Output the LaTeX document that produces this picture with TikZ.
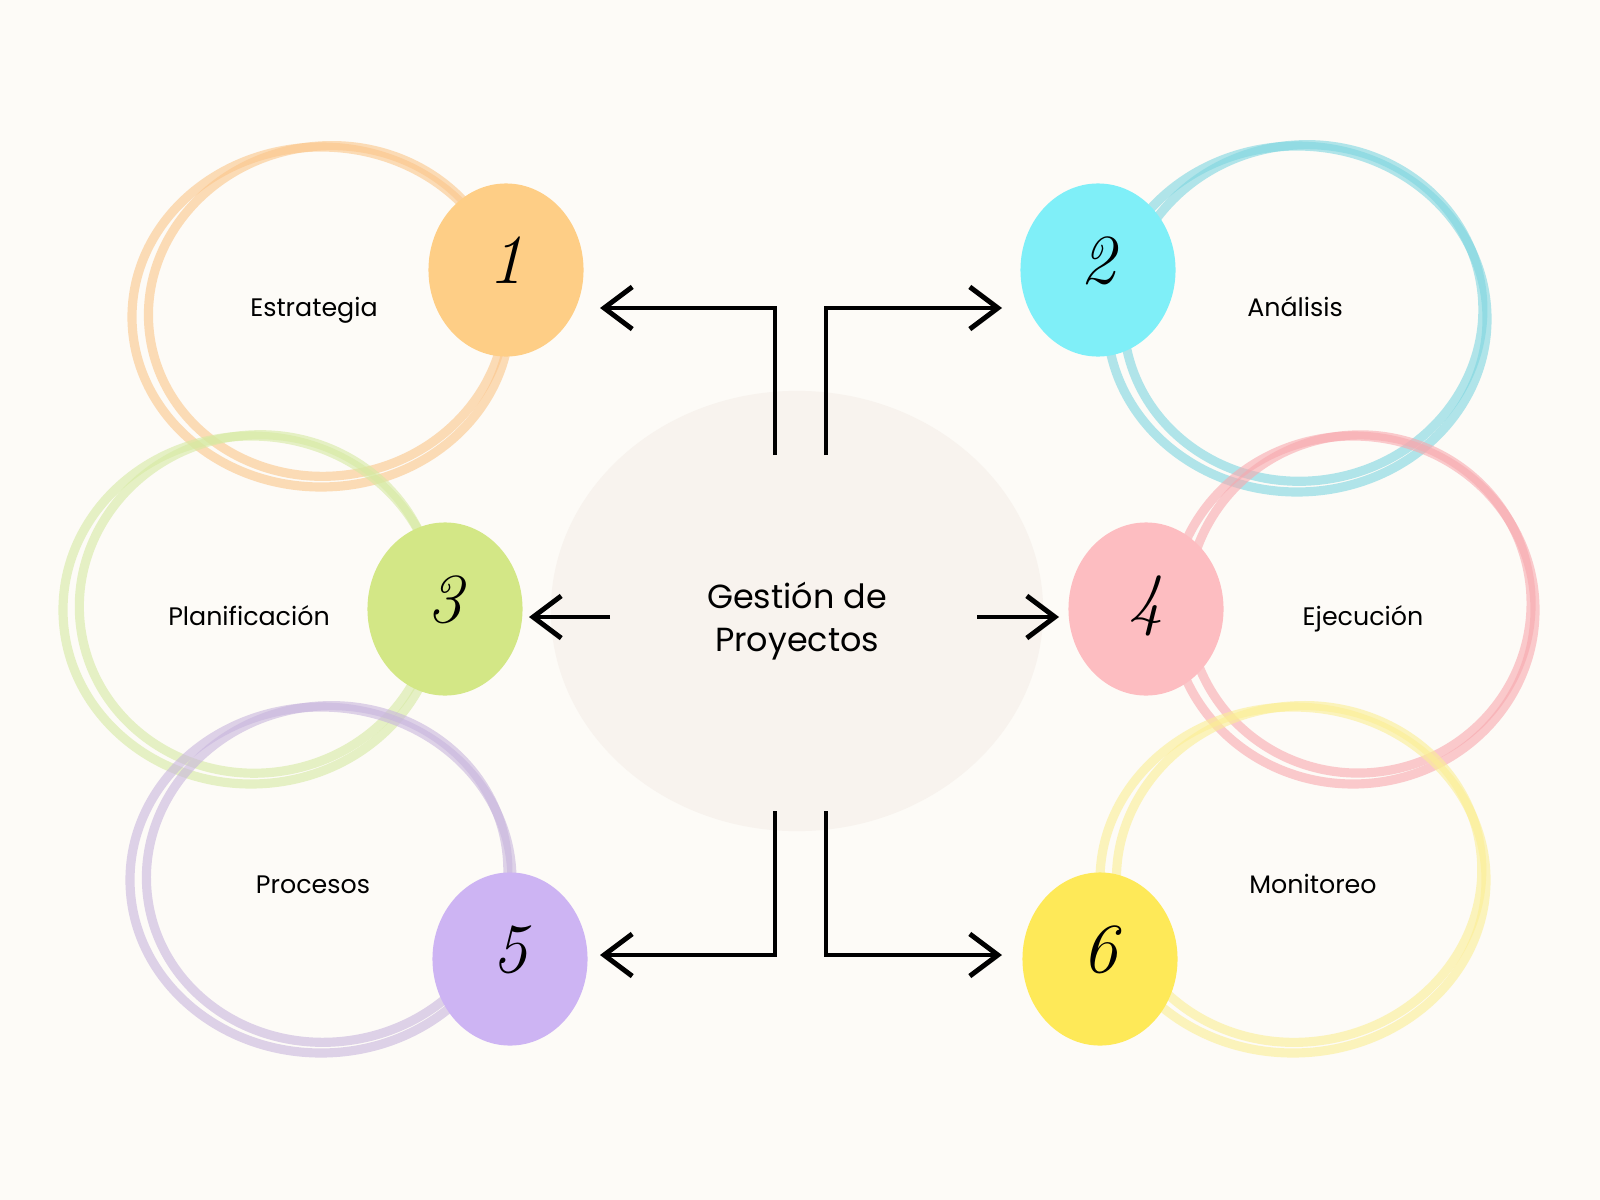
\documentclass[tikz,border=0pt]{standalone}
\usepackage{fontspec}
\setsansfont{Poppins}
\usepackage{xcolor}
\usetikzlibrary{arrows.meta,shapes.geometric}

\definecolor{paper}{HTML}{FDFBF7}
\definecolor{hubfill}{HTML}{F8F3EE}
\definecolor{orblob}{HTML}{FECE86}
\definecolor{orring}{HTML}{FBC68A}
\definecolor{cyblob}{HTML}{7FEFF8}
\definecolor{cyring}{HTML}{7ED6E0}
\definecolor{grblob}{HTML}{D3E786}
\definecolor{grring}{HTML}{D6EAA2}
\definecolor{piblob}{HTML}{FDBDC1}
\definecolor{piring}{HTML}{F8A8AE}
\definecolor{publob}{HTML}{CDB4F3}
\definecolor{puring}{HTML}{C8B5DD}
\definecolor{yeblob}{HTML}{FEE958}
\definecolor{yering}{HTML}{FBEE94}

\begin{document}
\begin{tikzpicture}[x=0.01cm,y=-0.01cm,
  ring/.style={line width=2.6pt,opacity=0.6},
  blob/.style={ellipse,inner sep=0pt,minimum width=1.55cm,minimum height=1.73cm,
    text depth=5.5pt,font=\rmfamily\itshape\fontsize{20}{20}\selectfont},
  hub/.style={ellipse,fill=hubfill,minimum width=4.92cm,minimum height=4.4cm,
    align=center,font=\sffamily\fontsize{9.5}{12.4}\selectfont},
  lbl/.style={anchor=base,font=\sffamily\fontsize{7.2}{8}\selectfont},
  link/.style={line width=1.4pt,-{Straight Barb[length=8pt,width=12pt]}}]
  \fill[paper] (0,0) rectangle (1600,1200);
  \useasboundingbox (0,0) rectangle (1600,1200);

  % double rings
  \foreach \cx/\cy/\rx/\ry/\c in {321/317/189/170/orring,1297/319/190/173/cyring,
      251/610/188/174/grring,1353/610/182/174/piring,
      321/880/191/173/puring,1293/880/193/173/yering} {
    \draw[ring,\c] (\cx,\cy) ellipse [x radius=\rx,y radius=\ry];
    \draw[ring,\c,rotate around={9:(\cx,\cy)}] (\cx+7,\cy-5)
      ellipse [x radius=\rx-10,y radius=\ry-5];
  }

  \node[hub] (hub) at (797,611)
    {\raisebox{0pt}[\dimexpr\height+5.7pt]{Gestión de}\\Proyectos};

  \node[blob,fill=orblob] (b1) at (506,270) {1};
  \node[blob,fill=cyblob] (b2) at (1098,270) {2};
  \node[blob,fill=grblob] (b3) at (445,609) {3};
  \node[blob,fill=piblob] (b4) at (1146,609) {4};
  \node[blob,fill=publob] (b5) at (510,959) {5};
  \node[blob,fill=yeblob] (b6) at (1100,959) {6};

  \node[lbl] (l1) at (314,316) {Estrategia};
  \node[lbl] (l2) at (1295,316) {Análisis};
  \node[lbl] (l3) at (249,625) {Planificación};
  \node[lbl] (l4) at (1363,625) {Ejecución};
  \node[lbl] (l5) at (313,893) {Procesos};
  \node[lbl] (l6) at (1313,893) {Monitoreo};

  % arrows out of the hub
  \coordinate (s1) at (775,455);  \coordinate (e1) at (600,308);
  \coordinate (s2) at (826,455);  \coordinate (e2) at (1002,308);
  \coordinate (s3) at (610,617);  \coordinate (e3) at (529,617);
  \coordinate (s4) at (977,617);  \coordinate (e4) at (1059,617);
  \coordinate (s5) at (775,811);  \coordinate (e5) at (600,955);
  \coordinate (s6) at (826,811);  \coordinate (e6) at (1002,955);
  \draw[link] (s1) |- (e1);
  \draw[link] (s2) |- (e2);
  \draw[link] (s3) -- (e3);
  \draw[link] (s4) -- (e4);
  \draw[link] (s5) |- (e5);
  \draw[link] (s6) |- (e6);
\end{tikzpicture}
\end{document}
